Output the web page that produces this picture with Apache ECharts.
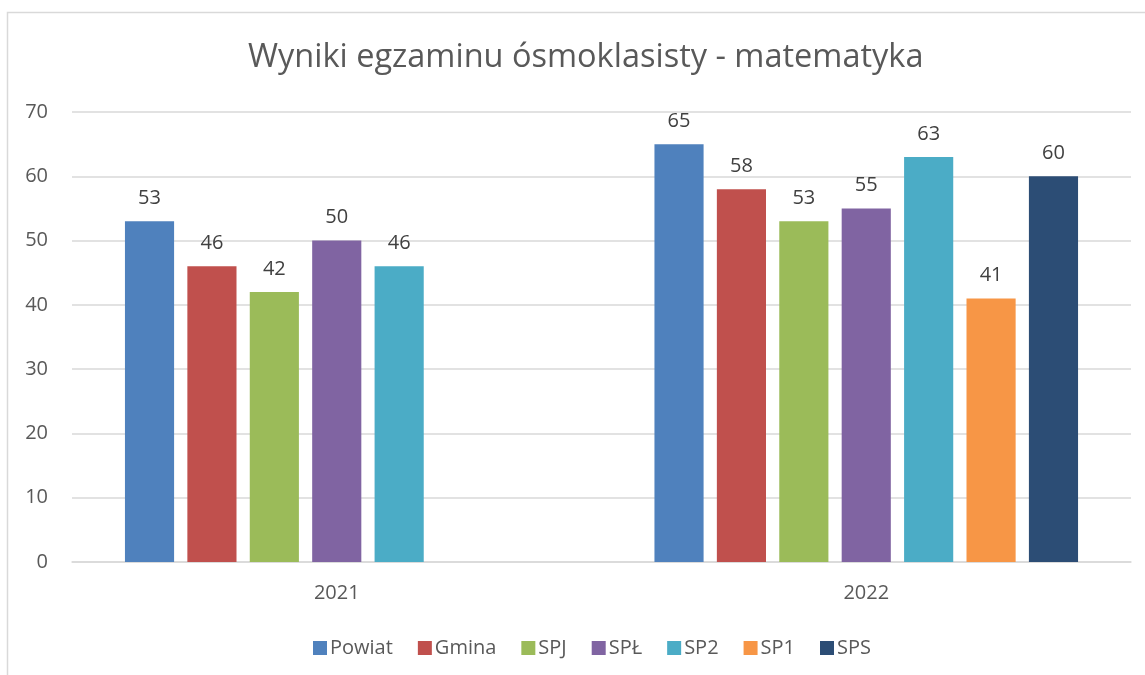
<!DOCTYPE html>
<html><head><meta charset="utf-8">
<script src="https://cdn.jsdelivr.net/npm/echarts@6/dist/echarts.min.js"></script>
<style>html,body{margin:0;padding:0;background:#fff}#c{width:1145px;height:675px}</style>
</head><body><div id="c"></div>
<script>
const categories = ['2021', '2022'];
const seriesNames = ['Powiat', 'Gmina', 'SPJ', 'SPŁ', 'SP2', 'SP1', 'SPS'];
const powiat = [53, 65];
const gmina = [46, 58];
const spj = [42, 53];
const spl = [50, 55];
const sp2 = [46, 63];
const sp1 = [null, 41];
const sps = [null, 60];
const yTicks = [0, 10, 20, 30, 40, 50, 60, 70];

const values = [powiat, gmina, spj, spl, sp2, sp1, sps];
const colors = ['#4F81BD', '#C0504D', '#9BBB59', '#8064A2', '#4BACC6', '#F79646', '#2C4D75'];
const font = '"Open Sans", "Noto Sans", sans-serif';

const chart = echarts.init(document.getElementById('c'));
chart.setOption({
  animation: false,
  backgroundColor: '#fff',
  graphic: [{
    type: 'rect', shape: {x: 7.5, y: 12.5, width: 1200, height: 800},
    style: {fill: 'none', stroke: '#d9d9d9', lineWidth: 1.5}, z: -1
  }],
  title: {
    text: 'Wyniki egzaminu ósmoklasisty - matematyka',
    left: 243, top: 36,
    textStyle: {fontFamily: font, fontSize: 32.5, fontWeight: 'normal', color: '#595959'}
  },
  legend: {
    bottom: 12, left: 308,
    itemWidth: 14, itemHeight: 14, itemGap: 25,
    icon: 'rect',
    textStyle: {fontFamily: font, fontSize: 20, color: '#595959', padding: [0, 0, 0, -2]},
    data: seriesNames
  },
  grid: {left: 72, right: 14, top: 112, bottom: 113},
  xAxis: {
    type: 'category', data: categories,
    axisLine: {lineStyle: {color: '#d9d9d9', width: 1.5}},
    axisTick: {show: false},
    axisLabel: {fontFamily: font, fontSize: 20, color: '#595959', margin: 21}
  },
  yAxis: {
    type: 'value', min: 0, max: 70, interval: 10,
    axisLine: {show: false}, axisTick: {show: false},
    splitLine: {lineStyle: {color: '#d9d9d9', width: 1.5}},
    axisLabel: {fontFamily: font, fontSize: 20, color: '#595959', margin: 24,
      formatter: v => yTicks.includes(v) ? String(v) : ''}
  },
  series: seriesNames.map((n, i) => ({
    name: n, type: 'bar', data: values[i],
    barGap: '27%', barCategoryGap: '20%',
    itemStyle: {color: colors[i]},
    label: {show: true, position: 'top', distance: 13,
      fontFamily: font, fontSize: 20, color: '#404040'}
  }))
});
</script></body></html>
